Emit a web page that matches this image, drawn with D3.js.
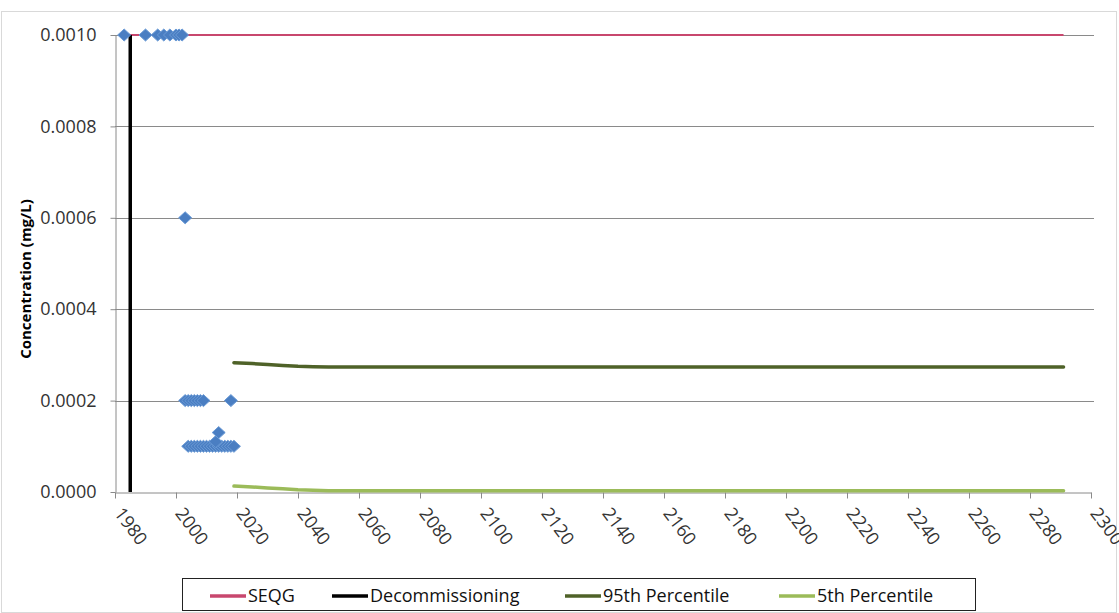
<!DOCTYPE html>
<html>
<head>
<meta charset="utf-8">
<script src="https://cdn.jsdelivr.net/npm/d3@7"></script>
<style>
  html, body { margin: 0; padding: 0; background: #fff; }
  svg { display: block; font-family: "Open Sans", "Noto Sans", sans-serif; }
</style>
</head>
<body>
<svg id="chart" width="1119" height="613"></svg>
<script>
// Monitoring results (mg/L) by year
const sampleYears  = [1983, 1990, 1994, 1996, 1998, 2000, 2001, 2002,
                      2003,
                      2003, 2004, 2005, 2006, 2007, 2008, 2009, 2018,
                      2004, 2005, 2006, 2007, 2008, 2009, 2010, 2011, 2012, 2013, 2014, 2015, 2016, 2017, 2018, 2019,
                      2013, 2014];
const sampleValues = [0.001, 0.001, 0.001, 0.001, 0.001, 0.001, 0.001, 0.001,
                      0.0006,
                      0.0002, 0.0002, 0.0002, 0.0002, 0.0002, 0.0002, 0.0002, 0.0002,
                      0.0001, 0.0001, 0.0001, 0.0001, 0.0001, 0.0001, 0.0001, 0.0001, 0.0001, 0.0001, 0.0001, 0.0001, 0.0001, 0.0001, 0.0001, 0.0001,
                      0.00011, 0.00013];

// Guideline and decommissioning marker
const seqgYears  = [1983, 2291];
const seqgValues = [0.001, 0.001];
const decomYears  = [1985, 1985];
const decomValues = [0, 0.001];

// Predicted concentrations
const p95Years  = [2019, 2025, 2030, 2035, 2040, 2045, 2050, 2100, 2150, 2200, 2250, 2291];
const p95Values = [0.000283, 0.000281, 0.000279, 0.000277, 0.000275, 0.000274, 0.0002735, 0.0002735, 0.0002735, 0.0002735, 0.0002735, 0.0002735];
const p05Years  = [2019, 2025, 2030, 2035, 2040, 2045, 2050, 2100, 2150, 2200, 2250, 2291];
const p05Values = [0.000013, 0.000011, 0.000009, 0.000007, 0.000005, 0.000004, 0.000003, 0.000003, 0.000003, 0.000003, 0.000003, 0.000003];

const xTicks = d3.range(1980, 2301, 20);
const yTicks = [0, 0.0002, 0.0004, 0.0006, 0.0008, 0.0010];

const legendNames  = ["SEQG", "Decommissioning", "95th Percentile", "5th Percentile"];
const legendColors = ["#c8476e", "#000000", "#4f6228", "#9bbb59"];

const svg = d3.select("#chart");
const plotLeft = 115, plotRight = 1091, plotTop = 35, plotBottom = 492;

// Chart frame
svg.append("rect")
  .attr("x", 1.5).attr("y", 11.5).attr("width", 1115).attr("height", 601)
  .attr("fill", "none").attr("stroke", "#d9d9d9");

const x = d3.scaleLinear().domain([1980, 2300]).range([plotLeft, plotRight]);
const y = d3.scaleLinear().domain([0, 0.001]).range([plotBottom, plotTop]);

// Horizontal gridlines
svg.append("g").selectAll("line")
  .data(yTicks.filter(d => d > 0))
  .join("line")
  .attr("x1", plotLeft).attr("x2", plotRight + 3)
  .attr("y1", d => Math.round(y(d)) + 0.5).attr("y2", d => Math.round(y(d)) + 0.5)
  .attr("stroke", "#8a8a8a").attr("stroke-width", 1);

// Y axis
const yAxis = svg.append("g")
  .attr("transform", `translate(${plotLeft + 0.5},0)`)
  .call(d3.axisLeft(y).tickValues(yTicks).tickFormat(d3.format(".4f")).tickSize(5).tickSizeOuter(0));
yAxis.select(".domain").attr("stroke", "#8a8a8a");
yAxis.selectAll(".tick line").attr("stroke", "#8a8a8a");
yAxis.selectAll(".tick text")
  .attr("x", -19).attr("font-size", 18).attr("fill", "#333")
  .attr("font-family", "'Open Sans', sans-serif");

// X axis
const xAxis = svg.append("g")
  .attr("transform", `translate(0,${plotBottom + 0.5})`)
  .call(d3.axisBottom(x).tickValues(xTicks).tickFormat(d3.format("d")).tickSize(6).tickSizeOuter(0));
xAxis.select(".domain").attr("stroke", "#8a8a8a");
xAxis.selectAll(".tick line").attr("stroke", "#8a8a8a");
xAxis.selectAll(".tick text")
  .attr("font-size", 18).attr("fill", "#333")
  .attr("font-family", "'Open Sans', sans-serif")
  .attr("text-anchor", "start")
  .attr("x", 0).attr("y", 0).attr("dy", 0)
  .attr("transform", "translate(-2,21) rotate(53)");

// Y axis title
svg.append("text")
  .attr("transform", "translate(31,279) rotate(-90)")
  .attr("text-anchor", "middle")
  .attr("font-size", 15).attr("font-weight", "bold").attr("fill", "#000")
  .text("Concentration (mg/L)");

const line = d3.line().x(d => x(d[0])).y(d => y(d[1]));

// Guideline
svg.append("path")
  .datum(d3.zip(seqgYears, seqgValues))
  .attr("d", line).attr("fill", "none")
  .attr("stroke", legendColors[0]).attr("stroke-width", 2);

// Predicted percentiles
svg.append("path")
  .datum(d3.zip(p95Years, p95Values))
  .attr("d", line).attr("fill", "none")
  .attr("stroke", legendColors[2]).attr("stroke-width", 3.5).attr("stroke-linecap", "round");
svg.append("path")
  .datum(d3.zip(p05Years, p05Values))
  .attr("d", line).attr("fill", "none")
  .attr("stroke", legendColors[3]).attr("stroke-width", 3.5).attr("stroke-linecap", "round");

// Decommissioning marker
svg.append("path")
  .datum(d3.zip(decomYears, decomValues))
  .attr("d", line).attr("fill", "none")
  .attr("stroke", legendColors[1]).attr("stroke-width", 3.5);

// Sample results as diamonds
const diamond = (rx, ry) => `M0,${-ry}L${rx},0L0,${ry}L${-rx},0Z`;
svg.append("g").selectAll("path")
  .data(d3.zip(sampleYears, sampleValues))
  .join("path")
  .attr("transform", d => `translate(${x(d[0])},${y(d[1])})`)
  .attr("d", diamond(6.5, 6))
  .attr("fill", "#4a7ec2").attr("stroke", "#6a9ad6").attr("stroke-width", 1);

// Legend
const legend = svg.append("g");
legend.append("rect")
  .attr("x", 182.5).attr("y", 578.5).attr("width", 793).attr("height", 32)
  .attr("fill", "#fff").attr("stroke", "#222").attr("stroke-width", 1);
const legendX = [210, 332, 565, 779];
const items = legend.selectAll("g.item")
  .data(legendNames.map((n, i) => ({ n, c: legendColors[i], x: legendX[i] })))
  .join("g").attr("class", "item")
  .attr("transform", d => `translate(${d.x},596)`);
items.append("line")
  .attr("x1", 0).attr("x2", 36).attr("y1", 0).attr("y2", 0)
  .attr("stroke", d => d.c).attr("stroke-width", 3.5);
items.append("text")
  .attr("x", 38).attr("dy", "0.35em")
  .attr("font-size", 18).attr("fill", "#111")
  .text(d => d.n);
</script>
</body>
</html>
